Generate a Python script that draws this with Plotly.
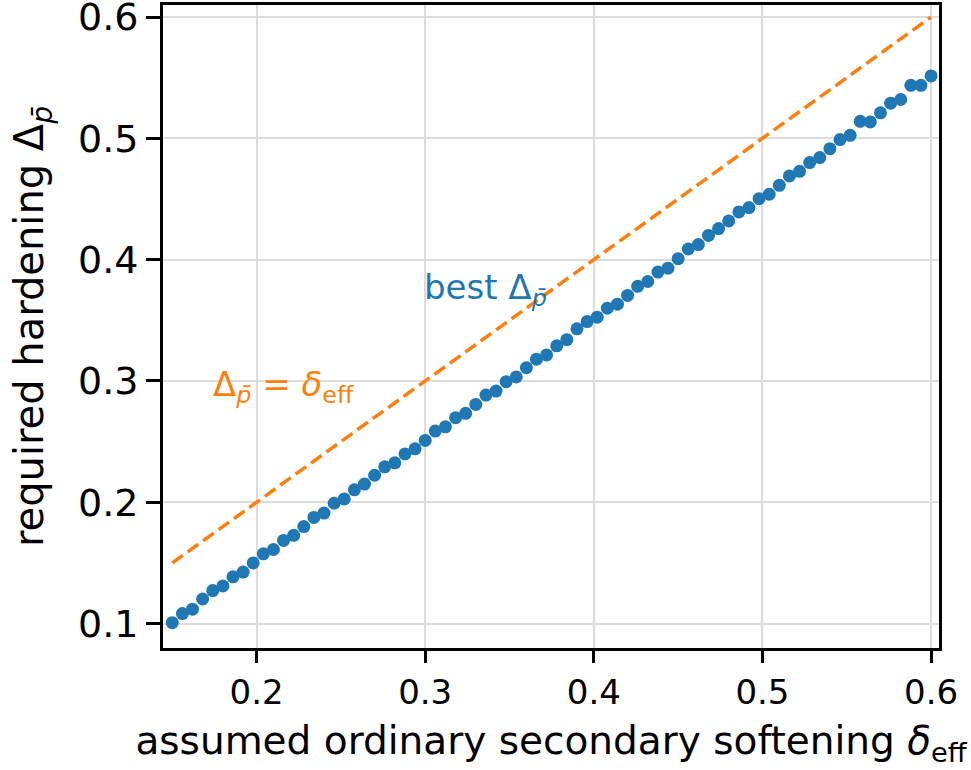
import plotly.graph_objects as go

# effective secondary softening values (x) and best-fit hardening (y)
delta_eff = [round(0.15 + 0.006 * k, 3) for k in range(76)]
best_hardening = [
    0.1008, 0.1083, 0.1119, 0.1203, 0.1272, 0.1311, 0.1386, 0.1425, 0.1500, 0.1575,
    0.1611, 0.1686, 0.1728, 0.1800, 0.1875, 0.1911, 0.1992, 0.2028, 0.2103, 0.2150,
    0.2223, 0.2292, 0.2325, 0.2399, 0.2441, 0.2510, 0.2587, 0.2622, 0.2697, 0.2733,
    0.2807, 0.2884, 0.2917, 0.2994, 0.3033, 0.3110, 0.3180, 0.3215, 0.3290, 0.3340,
    0.3430, 0.3490, 0.3526, 0.3600, 0.3633, 0.3705, 0.3780, 0.3820, 0.3898, 0.3930,
    0.4008, 0.4088, 0.4124, 0.4200, 0.4256, 0.4319, 0.4393, 0.4429, 0.4503, 0.4539,
    0.4613, 0.4690, 0.4728, 0.4800, 0.4841, 0.4915, 0.4990, 0.5025, 0.5140, 0.5135,
    0.5210, 0.5290, 0.5320, 0.5437, 0.5437, 0.5514,
]
identity_x = [0.15, 0.60]
identity_y = [0.15, 0.60]
x_ticks = [0.2, 0.3, 0.4, 0.5, 0.6]
y_ticks = [0.1, 0.2, 0.3, 0.4, 0.5, 0.6]

BLUE = "#1f77b4"
ORANGE = "#ff7f0e"
FONT = "DejaVu Sans"

fig = go.Figure()
fig.add_trace(go.Scatter(
    x=identity_x, y=identity_y, mode="lines",
    line=dict(color=ORANGE, width=3.5, dash="13px,6px"),
    showlegend=False, hoverinfo="skip",
))
fig.add_trace(go.Scatter(
    x=delta_eff, y=best_hardening, mode="markers",
    marker=dict(color=BLUE, size=13, line=dict(width=0)),
    showlegend=False,
))

fig.add_annotation(
    x=0.298, y=0.375, xref="x", yref="y", xanchor="left", yanchor="middle",
    text="best Δ<sub><i>p̄</i></sub>", showarrow=False,
    font=dict(family=FONT, size=34, color=BLUE),
)
fig.add_annotation(
    x=0.173, y=0.2955, xref="x", yref="y", xanchor="left", yanchor="middle",
    text="Δ<sub><i>p̄</i></sub> = <i>δ</i><sub>eff</sub>", showarrow=False,
    font=dict(family=FONT, size=34, color=ORANGE),
)

axis_common = dict(
    showline=True, linecolor="black", linewidth=3, mirror=True,
    ticks="outside", tickcolor="black", tickwidth=3,
    showgrid=True, gridcolor="#dcdcdc", gridwidth=2, zeroline=False,
    ticklabeloverflow="allow", automargin=False,
)

fig.update_xaxes(
    range=[0.1445, 0.6047], tickvals=x_ticks, ticktext=[f"{v:.1f}" for v in x_ticks],
    ticklen=12, tickfont=dict(family=FONT, size=34, color="black"),
    title=dict(text="assumed ordinary secondary softening <i>δ</i><sub>eff</sub>",
               font=dict(family=FONT, size=39, color="black"), standoff=16),
    **axis_common,
)
fig.update_yaxes(
    range=[0.0799, 0.6099], tickvals=y_ticks, ticktext=[f"{v:.1f}" for v in y_ticks],
    ticklen=14, tickfont=dict(family=FONT, size=38, color="black"),
    title=dict(text="required hardening Δ<sub><i>p̄</i></sub>",
               font=dict(family=FONT, size=40, color="black"), standoff=22),
    **axis_common,
)

fig.update_layout(
    width=971, height=770,
    margin=dict(l=163, r=32, t=5, b=122),
    paper_bgcolor="white", plot_bgcolor="white",
    font=dict(family=FONT, color="black"),
)

fig.write_html("out.html")
